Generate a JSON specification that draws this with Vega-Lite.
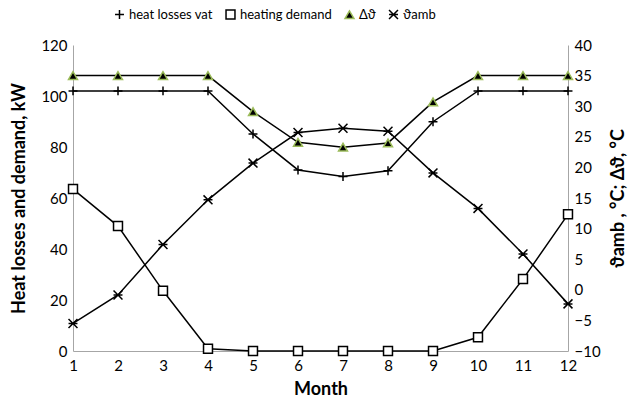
{
  "$schema": "https://vega.github.io/schema/vega-lite/v6.json",
  "autosize": {"type": "none"},
  "width": 495,
  "height": 306,
  "padding": {"left": 73, "top": 45, "right": 61, "bottom": 52},
  "background": "white",
  "config": {
    "view": {"stroke": null},
    "font": "Lato",
    "axis": {
      "grid": false,
      "ticks": false,
      "domainColor": "#a6a6a6",
      "domainWidth": 1,
      "labelFont": "Lato",
      "labelFontSize": 15,
      "labelColor": "#000000",
      "titleFont": "Lato",
      "titleFontSize": 18,
      "titleFontWeight": "bold",
      "titleColor": "#000000"
    },
    "legend": {
      "labelFont": "Lato",
      "labelFontSize": 13,
      "labelColor": "#000000"
    }
  },
  "data": {
    "values": [
      {"month": 1, "series": "heat losses vat", "axis": "left", "value": 102},
      {"month": 2, "series": "heat losses vat", "axis": "left", "value": 102},
      {"month": 3, "series": "heat losses vat", "axis": "left", "value": 102},
      {"month": 4, "series": "heat losses vat", "axis": "left", "value": 102},
      {"month": 5, "series": "heat losses vat", "axis": "left", "value": 85.1},
      {"month": 6, "series": "heat losses vat", "axis": "left", "value": 71},
      {"month": 7, "series": "heat losses vat", "axis": "left", "value": 68.4},
      {"month": 8, "series": "heat losses vat", "axis": "left", "value": 70.7},
      {"month": 9, "series": "heat losses vat", "axis": "left", "value": 89.9},
      {"month": 10, "series": "heat losses vat", "axis": "left", "value": 102},
      {"month": 11, "series": "heat losses vat", "axis": "left", "value": 102},
      {"month": 12, "series": "heat losses vat", "axis": "left", "value": 102},
      {"month": 1, "series": "heating demand", "axis": "left", "value": 63.5},
      {"month": 2, "series": "heating demand", "axis": "left", "value": 49},
      {"month": 3, "series": "heating demand", "axis": "left", "value": 23.6},
      {"month": 4, "series": "heating demand", "axis": "left", "value": 0.9},
      {"month": 5, "series": "heating demand", "axis": "left", "value": 0},
      {"month": 6, "series": "heating demand", "axis": "left", "value": 0},
      {"month": 7, "series": "heating demand", "axis": "left", "value": 0},
      {"month": 8, "series": "heating demand", "axis": "left", "value": 0},
      {"month": 9, "series": "heating demand", "axis": "left", "value": 0},
      {"month": 10, "series": "heating demand", "axis": "left", "value": 5.4},
      {"month": 11, "series": "heating demand", "axis": "left", "value": 28.2},
      {"month": 12, "series": "heating demand", "axis": "left", "value": 53.6},
      {"month": 1, "series": "Δϑ", "axis": "right", "value": 35},
      {"month": 2, "series": "Δϑ", "axis": "right", "value": 35},
      {"month": 3, "series": "Δϑ", "axis": "right", "value": 35},
      {"month": 4, "series": "Δϑ", "axis": "right", "value": 35},
      {"month": 5, "series": "Δϑ", "axis": "right", "value": 29.1},
      {"month": 6, "series": "Δϑ", "axis": "right", "value": 24.1},
      {"month": 7, "series": "Δϑ", "axis": "right", "value": 23.3},
      {"month": 8, "series": "Δϑ", "axis": "right", "value": 24},
      {"month": 9, "series": "Δϑ", "axis": "right", "value": 30.7},
      {"month": 10, "series": "Δϑ", "axis": "right", "value": 35},
      {"month": 11, "series": "Δϑ", "axis": "right", "value": 35},
      {"month": 12, "series": "Δϑ", "axis": "right", "value": 35},
      {"month": 1, "series": "ϑamb", "axis": "right", "value": -5.5},
      {"month": 2, "series": "ϑamb", "axis": "right", "value": -0.85},
      {"month": 3, "series": "ϑamb", "axis": "right", "value": 7.4},
      {"month": 4, "series": "ϑamb", "axis": "right", "value": 14.7},
      {"month": 5, "series": "ϑamb", "axis": "right", "value": 20.7},
      {"month": 6, "series": "ϑamb", "axis": "right", "value": 25.7},
      {"month": 7, "series": "ϑamb", "axis": "right", "value": 26.4},
      {"month": 8, "series": "ϑamb", "axis": "right", "value": 25.9},
      {"month": 9, "series": "ϑamb", "axis": "right", "value": 19.1},
      {"month": 10, "series": "ϑamb", "axis": "right", "value": 13.3},
      {"month": 11, "series": "ϑamb", "axis": "right", "value": 5.85},
      {"month": 12, "series": "ϑamb", "axis": "right", "value": -2.3}
    ]
  },
  "encoding": {
    "x": {
      "field": "month",
      "type": "quantitative",
      "scale": {"domain": [1, 12], "nice": false, "zero": false},
      "axis": {"values": [1,2,3,4,5,6,7,8,9,10,11,12], "title": "Month", "labelPadding": 7, "titlePadding": 7, "labelFlush": false}
    }
  },
  "layer": [
    {
      "transform": [{"filter": "datum.axis === 'left'"}],
      "encoding": {
        "y": {
          "field": "value",
          "type": "quantitative",
          "scale": {"domain": [0, 120], "nice": false},
          "axis": {"orient": "left", "values": [0,20,40,60,80,100,120], "title": "Heat losses and demand, kW", "labelPadding": 6, "titlePadding": 12}
        }
      },
      "layer": [
        {
          "mark": {"type": "line", "color": "#000000", "strokeWidth": 1.5},
          "encoding": {"detail": {"field": "series"}}
        },
        {
          "mark": {"type": "point", "filled": false, "opacity": 1, "strokeWidth": 1.5},
          "encoding": {
            "shape": {"field": "series", "type": "nominal", "sort": null,
              "scale": {"domain": ["heat losses vat", "heating demand", "Δϑ", "ϑamb"],
                        "range": ["M-1,0L1,0M0,-1L0,1", "square", "triangle-up", "M-1,-1L1,1M-1,1L1,-1M-1,0L1,0"]},
              "legend": {"orient": "none", "legendX": 40, "legendY": -37, "direction": "horizontal", "title": null, "columnPadding": 10, "symbolSize": 80, "symbolStrokeWidth": 1.5, "labelOffset": 3}},
            "fill": {"field": "series", "type": "nominal", "sort": null,
              "scale": {"domain": ["heat losses vat", "heating demand", "Δϑ", "ϑamb"],
                        "range": ["transparent", "#ffffff", "#000000", "transparent"]}},
            "stroke": {"field": "series", "type": "nominal", "sort": null,
              "scale": {"domain": ["heat losses vat", "heating demand", "Δϑ", "ϑamb"],
                        "range": ["#000000", "#000000", "#9bbb59", "#000000"]}},
            "size": {"value": 80}
          }
        }
      ]
    },
    {
      "transform": [{"filter": "datum.axis === 'right'"}],
      "encoding": {
        "y": {
          "field": "value",
          "type": "quantitative",
          "scale": {"domain": [-10, 40], "nice": false, "zero": false},
          "axis": {"orient": "right", "values": [-10,-5,0,5,10,15,20,25,30,35,40], "title": "ϑamb , °C; Δϑ, °C", "titleAngle": 270, "labelPadding": 6, "titlePadding": 27}
        }
      },
      "layer": [
        {
          "mark": {"type": "line", "color": "#000000", "strokeWidth": 1.5},
          "encoding": {"detail": {"field": "series"}}
        },
        {
          "mark": {"type": "point", "filled": false, "opacity": 1, "strokeWidth": 1.5},
          "encoding": {
            "shape": {"field": "series", "type": "nominal", "sort": null},
            "fill": {"field": "series", "type": "nominal", "sort": null},
            "stroke": {"field": "series", "type": "nominal", "sort": null},
            "size": {"value": 80}
          }
        }
      ]
    }
  ],
  "resolve": {"scale": {"y": "independent"}}
}
